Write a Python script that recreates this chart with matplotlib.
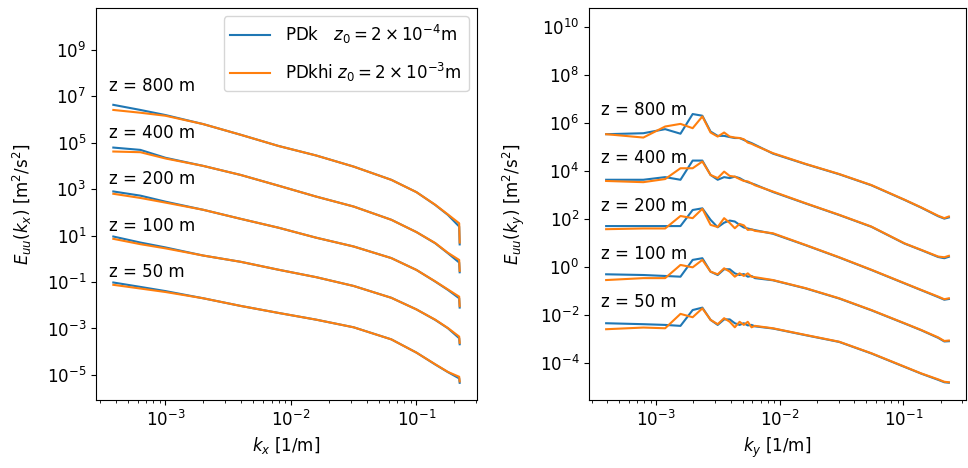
"""Streamwise / spanwise spectra of u at five heights, PDk vs PDkhi roughness.

Values are log10(E_uu) read off the original figure; each height is already
offset by a factor 100 in the source so the curves stack.
"""
import numpy as np
import matplotlib.pyplot as plt
from matplotlib.ticker import NullLocator

plt.rcParams["font.size"] = 12

BLUE = "tab:blue"
ORANGE = "tab:orange"

HEIGHTS = [800, 400, 200, 100, 50]

# ---- left panel: E_uu(k_x) ----
KX = [3.84e-4, 6.31e-4, 1.0e-3, 2.0e-3, 3.98e-3, 7.94e-3, 1.585e-2, 3.16e-2,
      6.31e-2, 0.1, 0.141, 0.178, 0.219, 0.221]

EX_PDK = {
    800: [6.63, 6.41, 6.19, 5.80, 5.34, 4.86, 4.45, 3.97, 3.40, 2.87, 2.32, 1.89, 1.39, 0.62],
    400: [4.79, 4.69, 4.35, 4.00, 3.61, 3.15, 2.68, 2.25, 1.68, 1.15, 0.67, 0.24, -0.16, -0.58],
    200: [2.90, 2.72, 2.46, 2.11, 1.72, 1.34, 0.91, 0.53, 0.03, -0.48, -0.98, -1.34, -1.70, -2.10],
    100: [0.96, 0.70, 0.49, 0.14, -0.13, -0.47, -0.79, -1.17, -1.68, -2.18, -2.63, -2.99, -3.42, -3.68],
    50: [-1.02, -1.21, -1.39, -1.70, -2.03, -2.33, -2.62, -2.95, -3.47, -4.04, -4.55, -4.88, -5.15, -5.34],
}
EX_PDKHI = {
    800: [6.41, 6.29, 6.16, 5.80, 5.34, 4.86, 4.45, 3.97, 3.40, 2.87, 2.33, 1.91, 1.53, 0.70],
    400: [4.62, 4.59, 4.32, 4.00, 3.61, 3.15, 2.68, 2.25, 1.68, 1.15, 0.68, 0.26, -0.05, -0.52],
    200: [2.80, 2.62, 2.42, 2.11, 1.72, 1.34, 0.91, 0.53, 0.03, -0.48, -0.97, -1.32, -1.63, -2.04],
    100: [0.86, 0.63, 0.45, 0.14, -0.13, -0.47, -0.79, -1.17, -1.68, -2.18, -2.62, -2.98, -3.35, -3.62],
    50: [-1.12, -1.28, -1.43, -1.70, -2.03, -2.33, -2.62, -2.95, -3.47, -4.04, -4.54, -4.87, -5.08, -5.28],
}

# ---- right panel: E_uu(k_y) ----
KY = [3.93e-4, 7.86e-4, 1.18e-3, 1.57e-3, 1.97e-3, 2.36e-3, 2.75e-3, 3.14e-3,
      3.54e-3, 3.93e-3, 4.32e-3, 4.72e-3, 5.11e-3, 5.50e-3, 5.90e-3, 6.29e-3,
      8.79e-3, 1.62e-2, 3.02e-2, 5.50e-2, 0.102, 0.139, 0.191, 0.214, 0.233]

EY_PDK = {
    800: [5.55, 5.59, 5.76, 5.57, 6.39, 6.32, 5.66, 5.48, 5.48, 5.43, 5.39, 5.39, 5.31, 5.24, 5.18, 5.11,
          4.74, 4.30, 3.88, 3.42, 2.81, 2.49, 2.13, 2.03, 2.08],
    400: [3.65, 3.65, 3.76, 3.65, 4.45, 4.45, 3.85, 3.65, 3.76, 3.72, 3.78, 3.72, 3.62, 3.55, 3.50, 3.45,
          3.14, 2.66, 2.18, 1.69, 0.99, 0.72, 0.43, 0.38, 0.44],
    200: [1.72, 1.72, 1.72, 1.72, 2.39, 2.46, 1.98, 1.67, 1.86, 1.95, 1.91, 1.77, 1.66, 1.62, 1.58, 1.55,
          1.40, 0.92, 0.41, -0.11, -0.67, -0.95, -1.24, -1.35, -1.32],
    100: [-0.29, -0.32, -0.36, -0.39, 0.31, 0.38, -0.18, -0.32, -0.08, -0.08, -0.25, -0.32, -0.28, -0.39,
          -0.36, -0.45, -0.54, -0.88, -1.30, -1.79, -2.34, -2.62, -2.94, -3.09, -3.08],
    50: [-2.33, -2.37, -2.40, -2.44, -1.78, -1.68, -2.19, -2.40, -2.17, -2.17, -2.33, -2.40, -2.33, -2.42,
         -2.40, -2.46, -2.55, -2.83, -3.11, -3.59, -4.15, -4.43, -4.69, -4.79, -4.81],
}
EY_PDKHI = {
    800: [5.55, 5.41, 5.87, 5.98, 5.80, 6.29, 5.62, 5.45, 5.62, 5.45, 5.41, 5.39, 5.34, 5.20, 5.15, 5.08,
          4.76, 4.31, 3.89, 3.43, 2.82, 2.50, 2.15, 2.05, 2.12],
    400: [3.60, 3.55, 3.68, 4.13, 4.13, 4.41, 3.85, 3.72, 3.99, 3.81, 3.78, 3.68, 3.60, 3.58, 3.50, 3.42,
          3.16, 2.67, 2.19, 1.70, 1.00, 0.73, 0.45, 0.42, 0.48],
    200: [1.59, 1.62, 1.62, 2.14, 2.05, 2.44, 1.77, 1.68, 2.05, 1.85, 1.63, 1.81, 1.75, 1.56, 1.58, 1.52,
          1.42, 0.93, 0.42, -0.10, -0.66, -0.94, -1.22, -1.33, -1.29],
    100: [-0.53, -0.45, -0.45, 0.10, 0.00, 0.31, -0.18, -0.29, -0.04, -0.18, -0.39, -0.25, -0.36, -0.25,
          -0.39, -0.41, -0.53, -0.87, -1.29, -1.78, -2.33, -2.61, -2.92, -3.07, -3.05],
    50: [-2.58, -2.51, -2.54, -1.94, -2.08, -1.71, -2.19, -2.37, -2.12, -2.27, -2.50, -2.27, -2.40, -2.27,
         -2.50, -2.44, -2.54, -2.82, -3.10, -3.58, -4.14, -4.42, -4.67, -4.77, -4.79],
}

LABEL_PDK = r"PDk   $z_0 = 2\times10^{-4}$m"
LABEL_PDKHI = r"PDkhi $z_0 = 2\times10^{-3}$m"


def panel(ax, k, pdk, pdkhi, label_base, ylim, yticks, xname):
    for i, z in enumerate(HEIGHTS):
        ax.loglog(k, 10.0 ** np.array(pdk[z]), color=BLUE, lw=1.5,
                  label=LABEL_PDK if i == 0 else None)
        ax.loglog(k, 10.0 ** np.array(pdkhi[z]), color=ORANGE, lw=1.5,
                  label=LABEL_PDKHI if i == 0 else None)
        # height tag sits just above each pair of curves (offsets of 100 per level)
        ax.text(3.55e-4, label_base * 100.0 ** (len(HEIGHTS) - 1 - i), f"z = {z} m",
                ha="left", va="center")
    ax.set_ylim(*ylim)
    ax.set_yticks(yticks)
    ax.yaxis.set_minor_locator(NullLocator())
    ax.set_xlabel(rf"$k_{xname}$ [1/m]")
    ax.set_ylabel(rf"$E_{{uu}}(k_{xname})$ [m$^2$/s$^2$]", labelpad=9)


fig = plt.figure(figsize=(9.68, 4.68), dpi=100)
ax1 = fig.add_axes([96 / 968, 68 / 468, 381 / 968, 392 / 468])
ax2 = fig.add_axes([589 / 968, 68 / 468, 377 / 968, 392 / 468])

panel(ax1, KX, EX_PDK, EX_PDKHI, 10 ** -0.58, (10 ** -6.08, 10 ** 10.8),
      10.0 ** np.arange(-5, 10, 2), "x")
panel(ax2, KY, EY_PDK, EY_PDKHI, 10 ** -1.43, (10 ** -5.53, 10 ** 10.81),
      10.0 ** np.arange(-4, 11, 2), "y")

ax1.legend(loc="upper right", labelspacing=0.9, handlelength=2.4, handletextpad=0.9)

fig.savefig("out.png", dpi=100)
